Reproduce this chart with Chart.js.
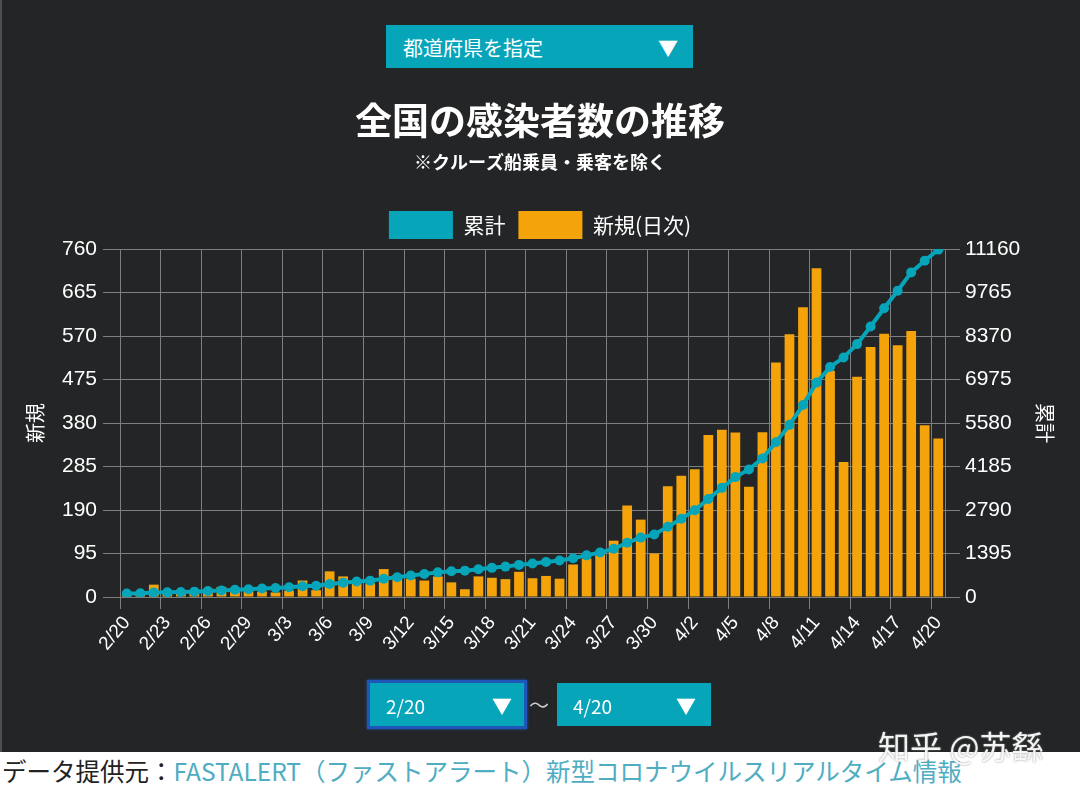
<!DOCTYPE html>
<html lang="ja">
<head>
<meta charset="utf-8">
<title>全国の感染者数の推移</title>
<script src="https://cdn.jsdelivr.net/npm/chart.js@4.4.1/dist/chart.umd.min.js"></script>
<style>
  html, body { margin: 0; padding: 0; }
  body {
    width: 1080px; height: 789px; position: relative; overflow: hidden;
    background: #fff; font-family: 'Noto Sans CJK JP', sans-serif;
  }
  #panel {
    position: absolute; left: 0; top: 0; width: 1080px; height: 752px;
    background: #232526; border-left: 2px solid #4c4e4f; box-sizing: border-box;
  }
  #chartBox { position: absolute; left: 0; top: 0; width: 1080px; height: 752px; }
  .select {
    position: absolute; box-sizing: border-box; background: #06a5ba; color: #fff;
  }
  .select span { position: absolute; top: 50%; transform: translateY(-50%); }
  .select .arrow { font-size: 20px; }
  #pref { left: 386px; top: 25px; width: 307px; height: 43px; font-size: 20px; }
  #from {
    left: 367px; top: 680px; width: 160px; height: 49px; font-size: 19px;
    border: 3px solid #1f56b9; box-shadow: 0 0 3px #1f56b9;
  }
  #to { left: 557px; top: 683px; width: 154px; height: 43px; font-size: 19px; }
  #tilde { position: absolute; left: 529px; top: 690px; color: #ccc; font-size: 20px; }
  #footer {
    position: absolute; left: 0; top: 752px; width: 1080px; height: 37px;
    line-height: 37px; font-size: 24.5px; color: #222; padding-left: 2px; white-space: nowrap;
  }
  #footer a { color: #4fadc2; text-decoration: none; }
  #mark {
    position: absolute; left: 878px; top: 722px; font-size: 32px; color: rgba(255,255,255,0.92);
    text-shadow: 0 0 2px #888; white-space: nowrap;
  }
</style>
</head>
<body>
<div id="panel"></div>
<div id="chartBox"><canvas id="chart"></canvas></div>

<div class="select" id="pref"><span style="left:17px">都道府県を指定</span><span class="arrow" style="left:272px">▼</span></div>
<div class="select" id="from"><span style="left:16px">2/20</span><span class="arrow" style="left:122px">▼</span></div>
<div id="tilde">〜</div>
<div class="select" id="to"><span style="left:16px">4/20</span><span class="arrow" style="left:119px">▼</span></div>

<div id="footer">データ提供元：<a>FASTALERT（ファストアラート）新型コロナウイルスリアルタイム情報</a></div>
<div id="mark">知乎 @苏繇</div>

<script>
// ===== Data =====
const dates = [
  '2/20','2/21','2/22','2/23','2/24','2/25','2/26','2/27','2/28','2/29',
  '3/1','3/2','3/3','3/4','3/5','3/6','3/7','3/8','3/9','3/10',
  '3/11','3/12','3/13','3/14','3/15','3/16','3/17','3/18','3/19','3/20',
  '3/21','3/22','3/23','3/24','3/25','3/26','3/27','3/28','3/29','3/30',
  '3/31','4/1','4/2','4/3','4/4','4/5','4/6','4/7','4/8','4/9',
  '4/10','4/11','4/12','4/13','4/14','4/15','4/16','4/17','4/18','4/19','4/20'
];

// 新規(日次)
const newCases = [
  5, 8, 27, 6, 8, 10, 18, 22, 20, 15,
  12, 10, 14, 36, 15, 56, 45, 35, 30, 61,
  48, 40, 36, 45, 32, 17, 45, 42, 39, 55,
  41, 46, 40, 71, 84, 94, 123, 200, 169, 95,
  242, 265, 279, 354, 365, 359, 241, 360, 512, 574,
  633, 718, 494, 295, 481, 546, 575, 550, 581, 375, 346
];

// 累計
const totalCases = [
  110, 120, 145, 152, 160, 172, 192, 212, 232, 250,
  270, 290, 310, 345, 362, 415, 460, 495, 525, 585,
  635, 690, 735, 790, 825, 845, 890, 935, 975, 1030,
  1075, 1125, 1170, 1245, 1335, 1430, 1545, 1740, 1905, 2005,
  2250, 2510, 2785, 3145, 3500, 3845, 4090, 4445, 4965, 5520,
  6155, 6875, 7375, 7680, 8110, 8675, 9260, 9820, 10410, 10785, 11140
];

// axis ticks
const leftMax = 760, leftStep = 95;
const rightMax = 11160, rightStep = 1395;
const labelEvery = 3;

// ===== Chart =====
const teal = '#06a5ba';
const orange = '#f4a30b';
const gridColor = '#7c7e7f';
const jp = "'Noto Sans CJK JP', sans-serif";

Chart.defaults.font.family = "'Liberation Sans', 'Noto Sans CJK JP', sans-serif";
Chart.defaults.color = '#fff';

new Chart(document.getElementById('chart'), {
    type: 'bar',
    data: {
        labels: dates,
        datasets: [
            {
                type: 'line', label: '累計', data: totalCases, yAxisID: 'y1', order: 1,
                borderColor: teal, backgroundColor: teal, borderWidth: 4,
                pointRadius: 5, pointBackgroundColor: teal, pointBorderWidth: 0, tension: 0
            },
            {
                type: 'bar', label: '新規(日次)', data: newCases, yAxisID: 'y', order: 2,
                backgroundColor: orange, borderWidth: 0,
                barPercentage: 0.72, categoryPercentage: 1
            }
        ]
    },
    options: {
        responsive: true,
        maintainAspectRatio: false,
        animation: false,
        layout: { padding: { left: 19, right: 19, top: 0, bottom: 0 } },
        plugins: {
            title: {
                display: true, text: '全国の感染者数の推移', color: '#fff',
                font: { size: 37, weight: 'bold', family: jp },
                padding: { top: 99, bottom: 8 }
            },
            subtitle: {
                display: true, text: '※クルーズ船乗員・乗客を除く', color: '#fff',
                font: { size: 18, weight: 'bold', family: jp },
                padding: { top: 0, bottom: 25 }
            },
            legend: {
                labels: {
                    boxWidth: 64, boxHeight: 28, padding: 13, color: '#fff',
                    font: { size: 21, family: jp },
                    generateLabels: (chart) => Chart.defaults.plugins.legend.labels.generateLabels(chart)
                        .map(item => Object.assign(item, { lineWidth: 0 }))
                }
            },
            tooltip: { enabled: false }
        },
        scales: {
            x: {
                offset: true,
                grid: {
                    offset: true, tickLength: 12, lineWidth: 1,
                    color: ctx => ctx.index % labelEvery === 0 ? gridColor : 'rgba(0,0,0,0)'
                },
                border: { color: gridColor },
                ticks: {
                    autoSkip: false, minRotation: 50, maxRotation: 50, color: '#fff',
                    font: { size: 19 },
                    callback: (v, i) => i % labelEvery === 0 ? dates[i] : ''
                },
                afterFit: s => { s.height = 155; }
            },
            y: {
                position: 'left', min: 0, max: leftMax,
                ticks: { stepSize: leftStep, padding: 6, color: '#fff', font: { size: 21 }, callback: v => String(v) },
                grid: { color: gridColor, tickLength: 17 },
                border: { color: gridColor },
                title: { display: true, text: '新規', color: '#fff', font: { size: 20, family: jp } },
                afterFit: s => { s.width = 101; }
            },
            y1: {
                position: 'right', min: 0, max: rightMax,
                ticks: { stepSize: rightStep, padding: 5, color: '#fff', font: { size: 21 }, callback: v => String(v) },
                grid: { drawOnChartArea: false, color: gridColor, tickLength: 15 },
                border: { color: gridColor },
                title: { display: true, text: '累計', color: '#fff', font: { size: 20, family: jp } },
                afterFit: s => { s.width = 116; }
            }
        }
    }
});
</script>
</body>
</html>
